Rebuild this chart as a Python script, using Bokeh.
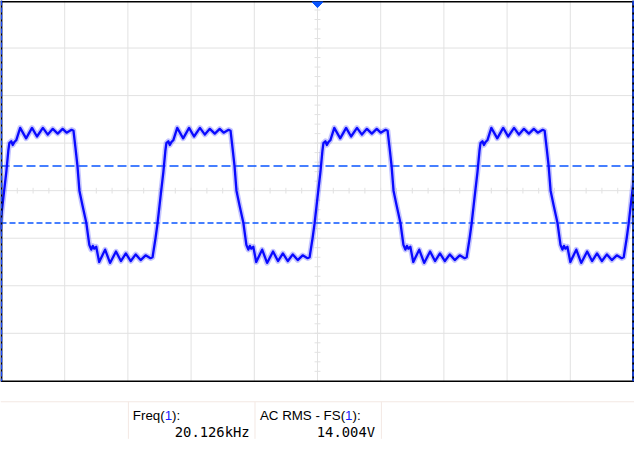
import numpy as np
from bokeh.plotting import figure
from bokeh.models import Range1d
from bokeh.embed import file_html
from bokeh.resources import INLINE
from bokeh.core.properties import value

# ---- data read from the screen capture ----
# one period of the captured waveform: time after the rising-edge start (us) and level (V)
period_t = [0.00, 0.94, 1.56, 2.50, 3.44, 4.06, 4.38, 5.00, 5.47, 5.94, 6.56,
            7.81, 9.69, 11.56, 13.13, 15.00, 16.56, 18.13, 19.69, 21.25, 22.50,
            24.06, 24.69, 25.31, 25.94, 26.56, 27.50, 28.75, 29.69, 30.31, 30.78,
            31.25, 31.88, 32.81, 34.69, 36.25, 38.13, 39.69, 41.25, 42.81, 44.38,
            45.94, 47.50, 49.06]
period_v = [-14.0, -10.0, -7.0, -1.4, 4.0, 8.4, 10.0, 10.4, 9.6, 10.2, 10.6,
            13.2, 11.0, 13.2, 11.4, 13.2, 11.8, 13.0, 12.0, 13.0, 12.2,
            12.8, 12.6, 9.0, 5.2, 0.0, -3.0, -6.8, -11.4, -12.4, -11.6,
            -12.2, -11.8, -15.0, -12.4, -15.2, -12.8, -14.8, -13.2, -14.8, -13.4,
            -14.6, -13.6, -14.2]
# start time of each rising edge on screen (us)
edge_starts = [-1.9, 47.8, 97.5, 147.2, 196.9]
# horizontal cursor levels (V)
cursor_levels = [5.2, -6.8]
trigger_time = 100.0
# measurement read-outs
meas_names = ["Freq(", "AC RMS - FS("]
meas_channel = "1"
meas_values = ["20.126kHz", "14.004V"]

# ---- screen geometry (20 us/div, 10 V/div) ----
T_DIV, V_DIV = 20.0, 10.0
PX_T = 64.0 / T_DIV      # reference px per us
PX_V = 50.0 / V_DIV      # reference px per V
REF_W, REF_H = 642, 461  # reference screen size
PAD_B = 7                # a little room below the read-outs
W, H = 634, 445          # figure size that fits the page
SX = W / REF_W
SY = H / (REF_H + PAD_B)


def tx(px):
    return (px - 1) / PX_T


def vy(py):
    return (200 - py) / PX_V


trace_t = np.concatenate([np.array(period_t) + s for s in edge_starts])
trace_v = np.concatenate([np.array(period_v) for _ in edge_starts])

p = figure(width=W, height=H, x_range=Range1d(tx(0), tx(REF_W)),
           y_range=Range1d(vy(REF_H + PAD_B), vy(0)),
           output_backend="svg", toolbar_location=None, min_border=0,
           x_axis_location=None, y_axis_location=None, outline_line_color=None,
           background_fill_color="white", border_fill_color="white")
p.grid.visible = False

grid_col = "#e2e2e2"
# graticule
gx = np.arange(1, 10) * T_DIV
p.segment(x0=gx, y0=-4 * V_DIV, x1=gx, y1=4 * V_DIV, line_color=grid_col, line_width=1)
gy = np.arange(-3, 4) * V_DIV
p.segment(x0=0, y0=gy, x1=10 * T_DIV, y1=gy, line_color=grid_col, line_width=1)
# minor ticks on the centre lines
mt = np.arange(1, 40) * (T_DIV / 4)
p.segment(x0=mt, y0=-3 / PX_V, x1=mt, y1=3 / PX_V, line_color=grid_col, line_width=1)
mv = np.arange(-19, 20) * (V_DIV / 5)
p.segment(x0=5 * T_DIV - 3 / PX_T, y0=mv, x1=5 * T_DIV + 3 / PX_T, y1=mv,
          line_color=grid_col, line_width=1)

# cursors
p.line([tx(0), tx(REF_W)], [cursor_levels[0]] * 2, line_color="#0a55ff", line_width=1.5,
       line_dash="9 4")
p.line([tx(0), tx(REF_W)], [cursor_levels[1]] * 2, line_color="#0a55ff", line_width=1.5,
       line_dash="6 3")

# waveform (persistence halo + core)
p.line(trace_t, trace_v, line_color="#5a5aff", line_alpha=0.35, line_width=5.5,
       line_join="round")
p.line(trace_t, trace_v, line_color="#0a0aff", line_width=2.3, line_join="round")

# frame
p.line([tx(0), tx(REF_W)], [vy(1.2)] * 2, line_color="black", line_width=1.5)
p.line([tx(0), tx(REF_W)], [vy(400.5)] * 2, line_color="black", line_width=1.5)
for xe in (tx(0.9), tx(640.6)):
    p.line([xe, xe], [vy(0), vy(400.5)], line_color="black", line_width=2)
    p.line([xe, xe], [vy(0), vy(400.5)], line_color="#1a4cff", line_width=1.5,
           line_dash="5 2")

# trigger position marker
p.patch([trigger_time - 5.5 / PX_T, trigger_time + 5.5 / PX_T, trigger_time],
        [vy(1.5), vy(1.5), vy(7.5)], fill_color="#0a55ff", line_color="#0a55ff")

# measurement panel
panel_col = "#f3e8e3"
p.line([tx(0), tx(641.5)], [vy(422)] * 2, line_color=panel_col, line_width=1)
for sxp in (129.5, 257.7, 385.7):
    p.line([tx(sxp), tx(sxp)], [vy(422), vy(REF_H)], line_color=panel_col, line_width=1)

fs = 13.5 * SX
name_font = value("Liberation Sans")
val_font = value("DejaVu Sans Mono")
name_x = [134, 262.7]
val_right = [252.3, 379.3]
name_w = [2389, 6389]
for i in range(2):
    x0 = name_x[i]
    p.text(x=[tx(x0)], y=[vy(436.7)], text=[meas_names[i]], text_font=name_font,
           text_font_size=f"{fs:.2f}px", text_color="#000000", text_baseline="alphabetic")
    x1 = x0 + name_w[i] * 13.5 / 1000
    p.text(x=[tx(x1)], y=[vy(436.7)], text=[meas_channel], text_font=name_font,
           text_font_size=f"{fs:.2f}px", text_color="#1a1aff", text_baseline="alphabetic")
    x2 = x1 + 556 * 13.5 / 1000
    p.text(x=[tx(x2)], y=[vy(436.7)], text=["):"], text_font=name_font,
           text_font_size=f"{fs:.2f}px", text_color="#000000", text_baseline="alphabetic")
    p.text(x=[tx(val_right[i])], y=[vy(454.3)], text=[meas_values[i]], text_font=val_font,
           text_font_size=f"{14 * SX:.2f}px", text_color="#000000", text_align="right",
           text_baseline="alphabetic")

open("out.html", "w").write(file_html(p, INLINE))
